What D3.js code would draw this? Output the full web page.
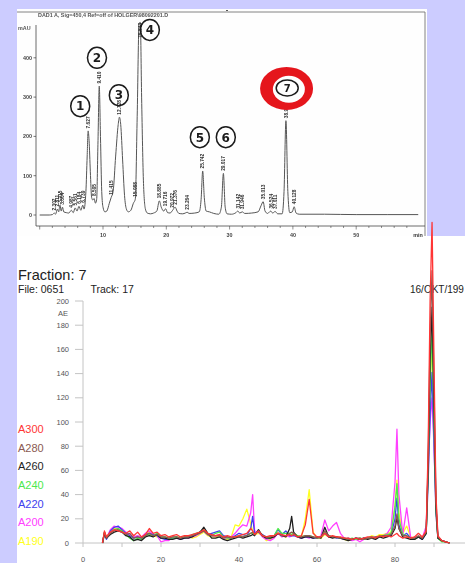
<!DOCTYPE html>
<html>
<head>
<meta charset="utf-8">
<script src="https://cdn.jsdelivr.net/npm/d3@7"></script>
<style>
  html, body { margin: 0; padding: 0; background: #ccccff; overflow: hidden; }
  svg { display: block; font-family: "Liberation Sans", Arial, sans-serif; }
</style>
</head>
<body>
<svg id="chart" width="465" height="563"></svg>
<script>
// ---------- HPLC run (DAD1 A, 450 nm) ----------
const scanTime = [0,1.5,2,2.3,2.5,2.8,3.0,3.2,3.4,3.6,
  3.8,4.2,4.6,5.0,5.3,5.6,5.9,6.2,6.5,6.8,
  7.0,7.3,7.5,7.65,7.8,8.0,8.2,8.4,8.6,8.8,
  9.0,9.2,9.41,9.6,9.8,10.0,10.3,10.6,11.0,11.3,
  11.6,12.0,12.4,12.6,12.8,13.1,13.4,13.7,14.0,14.4,
  14.8,15.1,15.4,15.7,15.9,16.1,16.4,16.7,17.0,17.5,
  18.0,18.5,18.9,19.2,19.6,19.9,20.2,20.6,21.0,21.4,
  21.7,22.0,22.6,23.0,23.3,23.6,24.5,25.2,25.5,25.75,
  26.0,26.3,26.8,27.5,28.3,28.7,29.02,29.3,29.6,30.3,
  31.0,31.3,31.6,32.0,32.4,33.5,34.5,35.0,35.3,35.6,
  36.0,36.5,36.8,37.2,37.6,38.3,38.6,38.9,39.2,39.5,
  39.9,40.2,40.5,41,45,50,55,59.8];
const scanMAU = [0,0,1,5,2,15,8,25,10,20,
  8,6,5,12,6,18,10,22,12,25,
  15,60,150,214,190,110,45,38,42,30,
  40,180,328,200,60,20,8,10,30,45,
  60,150,230,249,230,140,50,15,8,12,
  30,40,250,488,490,300,80,15,5,3,
  5,10,36,20,10,16,6,5,12,20,
  10,4,3,5,7,4,5,8,40,112,
  45,10,8,4,2,20,106,20,3,2,
  6,10,5,8,4,5,8,25,34,10,
  4,10,5,9,3,3,60,240,60,6,
  8,21,5,2,2,1,1,1];

// retention-time labels printed above the peaks
const peakLabelTimes = [2.3,2.8,3.2,3.6,5.0,5.6,6.2,6.8,7.65,8.6,9.41,11.3,12.6,15.1,15.8,18.9,19.9,21.0,21.4,23.3,25.75,29.02,31.3,32.0,35.3,36.5,37.2,38.9,40.2];
const peakLabelTexts = ["2.302","2.811","3.215","3.604","4.987","5.561","6.184","6.739","7.627","8.595","9.410","11.415","12.728","15.088","15.843","18.885","19.716","20.972","21.376","23.264","25.742","29.017","31.142","31.946","35.013","36.524","37.011","38.9","40.128"];

// hand-written peak numbers (placed in time / mAU units)
const markNumbers = ["1","2","3","4","5","6","7"];
const markTimes = [6.4, 9.05, 12.5, 17.4, 25.3, 29.4, 39.1];
const markMAU = [277, 400, 305, 471, 198, 198, 323];

const scanYTicks = [0, 100, 200, 300, 400];
const scanXLabels = [10, 20, 30, 40, 50];

// ---------- Fraction 7 absorbance traces ----------
const fracTime = [5,5.5,6,7,8,9,10,11,12,13,
  14,15,16,17,18,19,20,21,22,23,
  24,25,26,27,28,29,30,31,32,33,
  34,35,36,37,38,39,40,41,42,43,
  43.5,
  44,45,46,47,48,49,50,51,52,53,
  53.5,
  54,55,56,57,58,59,60,61,62,63,
  64,65,66,67,68,69,70,71,72,73,
  74,75,76,77,78,79,80,
  80.5,
  81,82,83,84,85,86,87,88,
  88.5,89,89.5,90,90.5,
  91,92,93,94];

const a300 = [0,10,5,9,11,10,9,8,10,6,
  9,5,7,12,8,9,6,7,5,6,
  7,5,6,6,7,8,9,11,8,7,
  6,7,5,6,5,5,6,7,8,12,
  10,
  7,10,6,5,6,6,8,7,6,7,
  6,
  7,5,6,15,36,8,5,5,8,5,
  6,5,5,4,4,3,4,3,4,5,
  5,4,6,5,6,5,7,
  8,
  6,4,5,4,5,8,5,10,
  80,200,265,150,40,
  6,2,1,0];
const a280 = [0,9,4,8,10,11,9,7,8,4,
  5,4,6,8,6,7,5,5,4,5,
  5,4,5,5,6,7,8,10,7,6,
  6,6,4,5,4,5,5,5,6,8,
  9,
  7,10,6,5,5,6,8,6,6,8,
  9,
  8,5,5,6,6,5,4,5,10,6,
  5,5,4,4,3,3,4,4,3,4,
  4,5,5,6,6,7,14,
  24,
  12,6,6,4,4,6,4,9,
  70,170,225,130,35,
  5,2,1,0];
const a260 = [0,8,4,7,9,10,9,6,5,2,
  3,2,5,6,5,7,4,4,3,3,
  4,3,4,4,5,7,9,13,8,4,
  4,5,3,2,3,4,5,4,5,6,
  7,
  6,11,6,4,4,5,8,6,5,12,
  22,
  9,5,4,5,5,4,5,4,13,5,
  4,5,4,3,2,3,4,3,4,3,
  4,3,5,4,5,6,12,
  21,
  12,5,4,3,3,5,3,8,
  62,150,195,112,30,
  4,2,1,0];
const a240 = [0,9,5,8,11,12,10,7,4,2,
  4,3,6,7,6,8,5,5,4,4,
  5,4,5,5,7,8,9,11,8,6,
  8,9,5,4,4,5,6,5,6,8,
  8,
  7,10,6,5,4,6,12,8,8,8,
  7,
  8,6,5,6,6,5,4,5,9,6,
  5,5,4,4,3,4,3,4,3,4,
  5,4,6,6,7,8,30,
  49,
  20,7,6,4,3,5,4,8,
  60,132,176,100,28,
  4,1,1,0];
const a220 = [0,8,3,10,13,14,11,8,6,4,
  5,4,7,8,7,6,4,3,3,4,
  5,3,4,5,6,7,9,10,7,8,
  9,10,6,5,4,6,8,7,6,12,
  22,
  8,9,7,5,4,6,11,7,10,6,
  6,
  6,5,4,5,5,4,4,5,8,5,
  5,4,4,3,4,3,4,3,4,4,
  5,4,5,6,6,7,20,
  37,
  15,6,8,4,4,5,3,8,
  50,106,141,82,24,
  4,2,1,0];
const a200 = [0,9,4,11,14,13,12,9,7,5,
  6,5,8,10,7,6,1,2,2,5,
  4,3,5,4,5,6,8,10,7,6,
  6,7,4,4,5,8,12,15,14,25,
  40,
  10,9,5,3,2,4,8,5,6,5,
  6,
  7,5,4,5,4,5,4,6,19,10,
  14,17,8,4,3,2,3,1,3,4,
  4,5,5,6,8,13,50,
  94,
  40,7,29,5,3,5,4,14,
  60,100,120,80,30,
  5,2,1,0];
const a190 = [0,8,5,9,12,11,10,8,6,5,
  5,5,7,9,6,5,4,4,5,5,
  5,4,5,6,4,5,7,9,6,5,
  5,6,4,3,5,15,14,20,28,16,
  10,
  7,8,6,2,3,5,9,6,5,6,
  7,
  8,6,5,20,44,9,4,4,7,5,
  5,4,4,3,2,3,3,4,3,4,
  6,5,7,7,8,9,30,
  52,
  25,8,14,5,4,5,4,9,
  58,126,168,96,26,
  4,2,1,0];

const channelNames = ["A300","A280","A260","A240","A220","A200","A190"];
const channelColors = ["#ff3535","#8b5a52","#1e1e1e","#4ee84e","#4040ee","#ff40ff","#ffff20"];
const channelValues = [a300, a280, a260, a240, a220, a200, a190];

const fracYTicks = d3.range(0, 201, 20);
const fracXLabels = [0, 20, 40, 60, 80];
const fracXMinor = [10, 30, 50, 70, 90];

// ---------- drawing ----------
const svg = d3.select("#chart");
const defs = svg.append("defs");
defs.append("filter").attr("id", "soft")
  .append("feGaussianBlur").attr("stdDeviation", 0.4);

// paper panels
svg.append("rect").attr("x", 17).attr("y", 9).attr("width", 410).attr("height", 229).attr("fill", "#fefefe");
svg.append("rect").attr("x", 17).attr("y", 236).attr("width", 448).attr("height", 327).attr("fill", "#ffffff");

// ----- upper chromatogram -----
const scanG = svg.append("g").attr("filter", "url(#soft)");
const tx = d3.scaleLinear().domain([0, 60]).range([39.7, 419.5]);
const ty = d3.scaleLinear().domain([0, 500]).range([215, 18.5]);
const ink = "#444";

// frame of the printout
scanG.append("line").attr("x1", 17).attr("x2", 425).attr("y1", 12).attr("y2", 12).attr("stroke", "#666").attr("stroke-width", 0.8);
scanG.append("line").attr("x1", 425).attr("x2", 425).attr("y1", 12).attr("y2", 236).attr("stroke", "#666").attr("stroke-width", 0.8);
scanG.append("line").attr("x1", 226).attr("x2", 228).attr("y1", 10.5).attr("y2", 10.5).attr("stroke", "#555").attr("stroke-width", 1.2);

scanG.append("text").attr("x", 38).attr("y", 16.5).attr("font-size", 5.4).attr("font-weight", "bold").attr("fill", "#555")
  .text("DAD1 A, Sig=450,4 Ref=off of HOLGER\\98092201.D");
scanG.append("text").attr("x", 18).attr("y", 30).attr("font-size", 5.4).attr("font-weight", "bold").attr("fill", "#555").text("mAU");

// y axis
scanG.append("line").attr("x1", 36).attr("x2", 36).attr("y1", 25).attr("y2", 226).attr("stroke", ink).attr("stroke-width", 0.8);
scanYTicks.forEach(v => {
  scanG.append("line").attr("x1", 33.5).attr("x2", 36).attr("y1", ty(v)).attr("y2", ty(v)).attr("stroke", ink).attr("stroke-width", 0.7);
  scanG.append("text").attr("x", 32).attr("y", ty(v)).attr("dy", "0.35em").attr("text-anchor", "end")
    .attr("font-size", 5.4).attr("font-weight", "bold").attr("fill", "#444").text(v);
});

// x axis
scanG.append("line").attr("x1", 36).attr("x2", 425).attr("y1", 226).attr("y2", 226).attr("stroke", ink).attr("stroke-width", 0.8);
d3.range(0, 60, 2).forEach(t => {
  const major = t % 10 === 0;
  scanG.append("line").attr("x1", tx(t)).attr("x2", tx(t)).attr("y1", 226).attr("y2", major ? 229.5 : 228)
    .attr("stroke", ink).attr("stroke-width", 0.6);
});
scanXLabels.forEach(t => {
  scanG.append("text").attr("x", tx(t)).attr("y", 236.5).attr("text-anchor", "middle")
    .attr("font-size", 5.4).attr("font-weight", "bold").attr("fill", "#444").text(t);
});
scanG.append("text").attr("x", 418).attr("y", 236.5).attr("text-anchor", "middle")
  .attr("font-size", 5.4).attr("font-weight", "bold").attr("fill", "#333").text("min");

// trace
const scanPts = scanTime.map((t, i) => [t, scanMAU[i]]);
scanG.append("path").datum(scanPts)
  .attr("d", d3.line().x(d => tx(d[0])).y(d => ty(d[1])).curve(d3.curveMonotoneX))
  .attr("fill", "none").attr("stroke", "#555").attr("stroke-width", 1.0);

// retention-time labels
function scanHeightNear(t) {
  let m = 0;
  scanPts.forEach(p => { if (Math.abs(p[0] - t) <= 0.2) m = Math.max(m, p[1]); });
  return m;
}
peakLabelTimes.forEach((t, i) => {
  const txt = peakLabelTexts[i];
  const len = txt.length * 2.6;
  let y0 = ty(scanHeightNear(t)) - 2.5;
  if (y0 - len < 22) y0 = 22 + len;
  scanG.append("text")
    .attr("transform", `translate(${tx(t) + 1.8},${y0}) rotate(-90)`)
    .attr("font-size", 4.8).attr("font-weight", "bold").attr("fill", "#333").text(txt);
});

// red ring around peak 7
const ringCx = tx(39.0), ringCy = ty(322);
const outer = `M${ringCx - 26.5},${ringCy} a26.5,21.5 0 1,0 53,0 a26.5,21.5 0 1,0 -53,0 Z`;
const inner = `M${ringCx + 2.3 - 16},${ringCy + 0.8} a16,13.5 0 1,0 32,0 a16,13.5 0 1,0 -32,0 Z`;
svg.append("path").attr("d", outer + " " + inner).attr("fill", "#e5141e").attr("fill-rule", "evenodd")
  .attr("filter", "url(#soft)");

// hand-drawn circled numbers
const pen = svg.append("g").attr("filter", "url(#soft)");
markNumbers.forEach((n, i) => {
  const cx = tx(markTimes[i]), cy = ty(markMAU[i]);
  const last = i === markNumbers.length - 1;
  pen.append("ellipse").attr("cx", cx).attr("cy", cy)
    .attr("rx", last ? 11 : 9.5).attr("ry", last ? 8 : 10.5)
    .attr("fill", "none").attr("stroke", "#1a1a1a").attr("stroke-width", 1.5);
  pen.append("text").attr("x", cx).attr("y", cy).attr("dy", "0.36em").attr("text-anchor", "middle")
    .attr("font-family", "DejaVu Sans").attr("font-weight", "bold").attr("font-size", last ? 10 : 12).attr("fill", "#1a1a1a").text(n);
});

// ----- Fraction 7 chart -----
const fx = d3.scaleLinear().domain([0, 80]).range([83, 395]);
const fy = d3.scaleLinear().domain([0, 200]).range([543, 301]);

svg.append("text").attr("x", 18).attr("y", 279.5).attr("font-size", 14.5).attr("fill", "#222").text("Fraction: 7");
svg.append("text").attr("x", 18).attr("y", 293).attr("font-size", 10.5).attr("fill", "#222").text("File: 0651");
svg.append("text").attr("x", 90.5).attr("y", 293).attr("font-size", 10.5).attr("fill", "#222").text("Track: 17");
svg.append("text").attr("x", 410).attr("y", 293).attr("font-size", 10).attr("fill", "#222").text("16/OKT/199");

const axisCol = "#c4c4c4";
svg.append("line").attr("x1", 83).attr("x2", 83).attr("y1", fy(200)).attr("y2", fy(0)).attr("stroke", axisCol);
fracYTicks.forEach(v => {
  svg.append("line").attr("x1", 75).attr("x2", 83).attr("y1", fy(v)).attr("y2", fy(v)).attr("stroke", axisCol);
  svg.append("text").attr("x", 69).attr("y", fy(v)).attr("dy", "0.35em").attr("text-anchor", "end")
    .attr("font-size", 7.5).attr("fill", "#555").text(v);
});
svg.append("text").attr("x", 63).attr("y", 316).attr("text-anchor", "middle").attr("font-size", 7.5).attr("fill", "#555").text("AE");

svg.append("line").attr("x1", 83).attr("x2", 465).attr("y1", fy(0)).attr("y2", fy(0)).attr("stroke", axisCol);
fracXMinor.concat(fracXLabels).forEach(t => {
  svg.append("line").attr("x1", fx(t)).attr("x2", fx(t)).attr("y1", fy(0)).attr("y2", fy(0) + 4).attr("stroke", axisCol);
});
fracXLabels.forEach(t => {
  svg.append("text").attr("x", fx(t)).attr("y", 559).attr("dy", "0.35em").attr("text-anchor", "middle")
    .attr("font-size", 7.5).attr("fill", "#555").text(t);
});

// legend
channelNames.forEach((name, i) => {
  svg.append("text").attr("x", 18).attr("y", 429 + i * 18.7).attr("dy", "0.36em")
    .attr("font-size", 11).attr("fill", channelColors[i]).text(name);
});

// traces, shortest wavelength first so A300 ends on top
const fracLine = d3.line().x((d, i) => fx(fracTime[i])).y(d => fy(d));
for (let i = channelNames.length - 1; i >= 0; i--) {
  svg.append("path").datum(channelValues[i])
    .attr("d", fracLine)
    .attr("fill", "none").attr("stroke", channelColors[i]).attr("stroke-width", 1.3)
    .attr("stroke-linejoin", "round");
}
</script>
</body>
</html>
